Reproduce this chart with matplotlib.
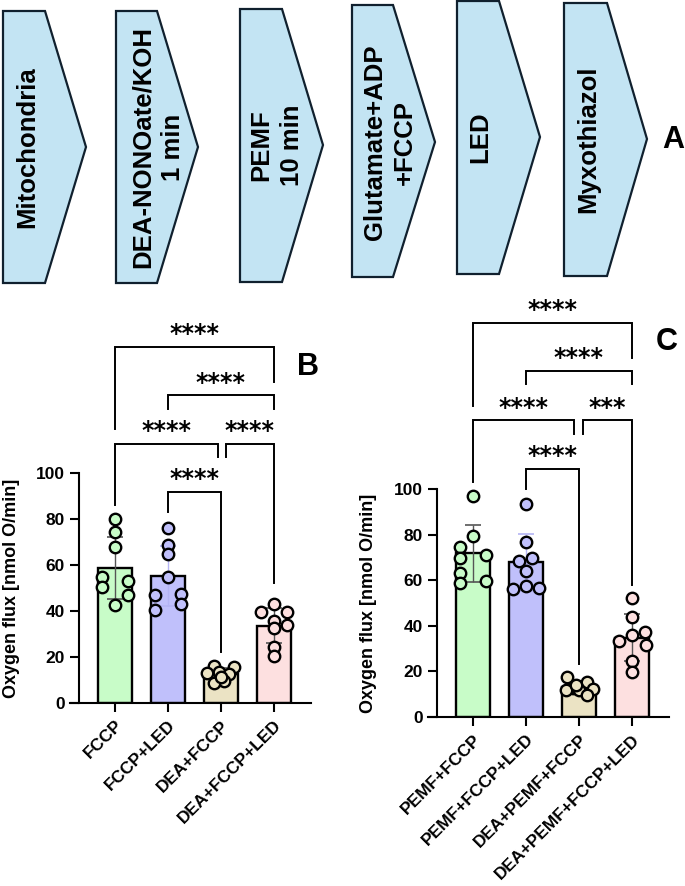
import numpy as np
import matplotlib
matplotlib.use('Agg')
import matplotlib.pyplot as plt
from matplotlib.patches import Polygon

plt.rcParams['font.family'] = ['Liberation Sans', 'DejaVu Sans']
plt.rcParams['font.weight'] = 'bold'

# ---- panel A: protocol steps
steps = ['Mitochondria', 'DEA-NONOate/KOH\n1 min', 'PEMF\n10 min',
         'Glutamate+ADP\n+FCCP', 'LED', 'Myxothiazol']

# ---- panel B
b_groups = ['FCCP', 'FCCP+LED', 'DEA+FCCP', 'DEA+FCCP+LED']
b_fccp = [80.0, 74.3, 68.0, 54.9, 53.1, 50.3, 47.1, 42.6]
b_fccp_led = [76.3, 68.5, 64.7, 54.9, 46.9, 47.4, 40.4, 43.0]
b_dea = [16.2, 15.8, 13.6, 12.9, 12.6, 9.7, 8.8, 11.4]
b_dea_led = [43.0, 39.7, 39.4, 35.8, 33.9, 32.4, 24.4, 20.5]
b_stars = ['****', '****', '****', '****', '****']

# ---- panel C
c_groups = ['PEMF+FCCP', 'PEMF+FCCP+LED', 'DEA+PEMF+FCCP', 'DEA+PEMF+FCCP+LED']
c_pemf = [97.1, 79.5, 74.7, 69.7, 71.1, 63.0, 58.8, 59.8]
c_pemf_led = [93.4, 76.6, 68.6, 69.7, 64.2, 56.1, 57.6, 56.4]
c_dea = [17.5, 15.5, 12.6, 12.0, 12.0, 12.3, 9.8, 14.0]
c_dea_led = [52.2, 44.0, 36.0, 33.2, 37.1, 31.7, 24.4, 19.9]
c_stars = ['****', '****', '****', '***', '****']

bar_colors = ['#c8fcc8', '#c0c0fb', '#ebe3c4', '#fde0e0']
err_colors = ['#555555', '#b4b4f4', '#555555', '#555555']

# horizontal scatter of the dots (fraction of bar spacing)
b_offs = [[0, 0, 0, -.25, .25, -.25, .25, 0],
          [0, 0, 0, 0, -.25, .25, -.25, .25],
          [-.14, .25, -.03, -.26, .16, .06, -.14, 0],
          [0, -.25, .25, 0, .25, 0, 0, 0]]
c_offs = [[0, 0, -.25, -.25, .25, -.25, -.25, .25],
          [0, 0, -.13, .12, 0, -.25, 0, .25],
          [-.23, .16, -.11, -.24, 0, .27, .16, -.05],
          [0, 0, 0, -.25, .25, .26, 0, 0]]

fig = plt.figure(figsize=(6.85, 8.86), dpi=100)

# ---------------- panel A
axA = fig.add_axes([0, 0, 1, 1])
axA.set_xlim(0, 685)
axA.set_ylim(886, 0)
axA.axis('off')
axA.patch.set_alpha(0)
arrow_x = [(3, 45, 86), (116, 157, 198), (240, 282, 323),
           (352, 393, 435), (457, 499, 540), (564, 607, 647)]
arrow_y = [(11, 147, 283), (11, 147, 283), (9, 145, 282),
           (5, 142, 277), (1, 137, 274), (3, 139, 276)]
text_x = [27, 158, 277, 390, 480, 588]
for s, (x0, xr, xt), (yt, ym, yb), tx in zip(steps, arrow_x, arrow_y, text_x):
    axA.add_patch(Polygon([(x0, yt), (xr, yt), (xt, ym), (xr, yb), (x0, yb)],
                          closed=True, fc='#c3e4f3', ec='#10202e', lw=1.6))
    axA.text(tx, ym, s, rotation=90, ha='center', va='center', fontsize=18.5,
             fontweight='bold', linespacing=1.35, multialignment='center')
axA.text(673, 140, 'A', fontsize=22, fontweight='bold', ha='center', va='center')


def panel(rect, groups, series, offs, stars, brackets, letter, lab_x):
    ax = fig.add_axes(rect)
    x = np.arange(len(groups))
    for i, vals in enumerate(series):
        vals = np.array(vals)
        m = vals.mean()
        sd = vals.std(ddof=1)
        ax.bar(x[i], m, width=0.63, color=bar_colors[i], edgecolor='black',
               linewidth=1.7, zorder=2)
        ax.errorbar(x[i], m, yerr=sd, color=err_colors[i], capsize=6,
                    elinewidth=1.0, capthick=1.2, zorder=3)
        ax.scatter(x[i] + np.array(offs[i]), vals, s=68, color=bar_colors[i],
                   edgecolor='black', linewidth=1.7, zorder=4)
    ax.set_xlim(-0.85, 3.70)
    ax.set_ylim(0, 100)
    ax.set_yticks([0, 20, 40, 60, 80, 100])
    ax.set_xticks(x)
    ax.set_xticklabels(groups, rotation=45, ha='right', rotation_mode='anchor',
                       fontsize=12.5, fontweight='bold')
    ax.tick_params(axis='both', direction='out', length=6.5, width=1.5,
                   labelsize=12.5)
    ax.tick_params(axis='x', pad=4)
    for lab in ax.get_yticklabels():
        lab.set_fontweight('bold')
    ax.spines['top'].set_visible(False)
    ax.spines['right'].set_visible(False)
    ax.spines['left'].set_position(('data', -0.68))
    ax.spines['left'].set_linewidth(1.5)
    ax.spines['bottom'].set_linewidth(1.5)
    ax.set_ylabel('Oxygen flux [nmol O/min]', fontsize=13, fontweight='bold')
    ax.yaxis.set_label_coords(lab_x, 0.5)
    for (x1, x2, y, yl, yr), st in zip(brackets, stars):
        ax.plot([x1, x1, x2, x2], [yl, y, y, yr], color='black', lw=1.4,
                clip_on=False, solid_joinstyle='miter')
        ax.text((x1 + x2) / 2, y + 0.3, st, ha='center', va='bottom',
                fontsize=17, family='DejaVu Sans', fontweight='bold')
    ax.text(3.65, brackets[0][2] - 2, letter, fontsize=22, fontweight='bold',
            ha='center', va='top')
    return ax


b_br = [(0, 3, 154.8, 119, 139.6),
        (1, 3, 133.7, 128, 128),
        (0, 1.94, 112.6, 86, 107),
        (2.09, 3, 112.6, 107, 52),
        (1, 2, 91.7, 83, 22)]
c_br = [(0, 3, 173, 136.5, 157.6),
        (1, 3, 151.9, 145.9, 145.9),
        (0, 1.91, 130.1, 103.2, 124.3),
        (2.08, 3, 130.1, 124.3, 58.1),
        (1, 2, 108.8, 100, 23.2)]

panel([70 / 685, 183 / 886, 241 / 685, 230 / 886], b_groups,
      [b_fccp, b_fccp_led, b_dea, b_dea_led], b_offs, b_stars, b_br, 'B', -0.207)
panel([428 / 685, 169 / 886, 241 / 685, 228 / 886], c_groups,
      [c_pemf, c_pemf_led, c_dea, c_dea_led], c_offs, c_stars, c_br, 'C', -0.21)

fig.savefig('out.png', dpi=100, facecolor='white')
